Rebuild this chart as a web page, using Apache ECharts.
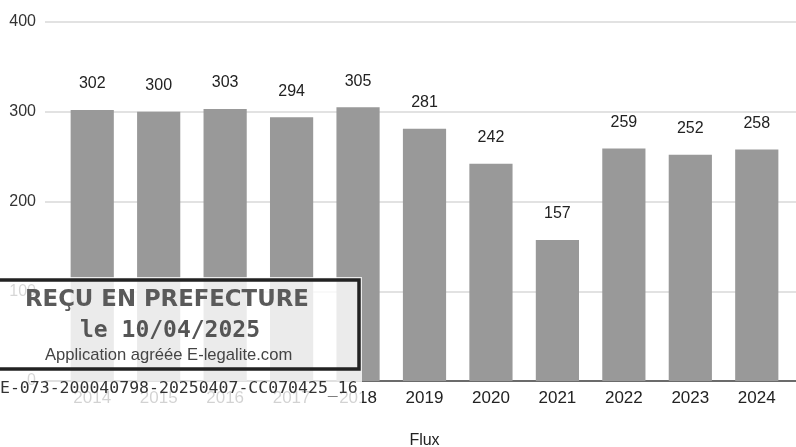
<!DOCTYPE html>
<html>
<head>
<meta charset="utf-8">
<script src="https://cdn.jsdelivr.net/npm/echarts@6/dist/echarts.min.js"></script>
<style>
html,body{margin:0;padding:0;background:#fff;}
#c{width:796px;height:447px;}
</style>
</head>
<body>
<div id="c"></div>
<script>
const categories = ['2014','2015','2016','2017','2018','2019','2020','2021','2022','2023','2024'];
const values = [302, 300, 303, 294, 305, 281, 242, 157, 259, 252, 258];
const yTicks = [0, 100, 200, 300, 400];
const axisName = 'Flux';
const stampLines = ['REÇU EN PREFECTURE', 'le 10/04/2025', 'Application agréée E-legalite.com'];
const stampId = 'E-073-200040798-20250407-CC070425_16';

const chart = echarts.init(document.getElementById('c'));
const font = '"Liberation Sans", Arial, sans-serif';
chart.setOption({
  animation: false,
  backgroundColor: '#ffffff',
  grid: [
    {left: 45, right: 0, top: 22, bottom: 66, containLabel: false, outerBoundsMode: 'none'},
    {left: 59, right: 6, top: 22, bottom: 66, containLabel: false, outerBoundsMode: 'none'}
  ],
  xAxis: [
    {gridIndex: 0, type: 'value', min: 0, max: 1,
     axisLine: {show: true, lineStyle: {color: '#444', width: 1.5}},
     axisTick: {show: false}, axisLabel: {show: false}, splitLine: {show: false}},
    {gridIndex: 1, type: 'category', data: categories,
     axisLine: {show: false},
     axisTick: {show: false},
     axisLabel: {color: '#222', fontSize: 17, fontFamily: font, margin: 9},
     name: axisName, nameLocation: 'middle', nameGap: 52,
     nameTextStyle: {color: '#222', fontSize: 16, fontFamily: font}
    }
  ],
  yAxis: [
    {gridIndex: 0, type: 'value', min: yTicks[0], max: yTicks[yTicks.length-1], interval: 100,
     axisLine: {show: false}, axisTick: {show: false},
     axisLabel: {color: '#333', fontSize: 16, fontFamily: font, margin: 9},
     splitLine: {lineStyle: {color: '#d8d8d8', width: 1.5}}
    },
    {gridIndex: 1, type: 'value', min: 0, max: 400, interval: 100, show: false, splitLine: {show: false}}
  ],
  series: [{
    type: 'bar',
    xAxisIndex: 1, yAxisIndex: 1,
    data: values,
    barWidth: '65%',
    itemStyle: {color: '#999999'},
    label: {show: true, position: 'top', distance: 18, color: '#222', fontSize: 16, fontFamily: font}
  }],
  graphic: [
    {type: 'rect', z: 100, shape: {x: 0, y: 277, width: 362, height: 131}, style: {fill: 'rgba(255,255,255,0.8)'}},
    {type: 'rect', z: 101, shape: {x: -4, y: 280, width: 363, height: 89}, style: {fill: 'none', stroke: '#222', lineWidth: 3.5}},
    {type: 'text', z: 102, left: 25, top: 289, style: {text: stampLines[0], fill: '#5a5a5a', font: 'bold 22.8px "DejaVu Sans", sans-serif'}},
    {type: 'text', z: 102, left: 80, top: 320, style: {text: stampLines[1], fill: '#555', font: 'bold 23px "DejaVu Sans Mono", monospace'}},
    {type: 'text', z: 102, left: 45, top: 347, style: {text: stampLines[2], fill: '#444', font: '16.6px "Liberation Sans", sans-serif'}},
    {type: 'text', z: 102, left: 0, top: 380, style: {text: stampId, fill: '#333', font: '16.5px "DejaVu Sans Mono", monospace'}}
  ]
});
</script>
</body>
</html>
